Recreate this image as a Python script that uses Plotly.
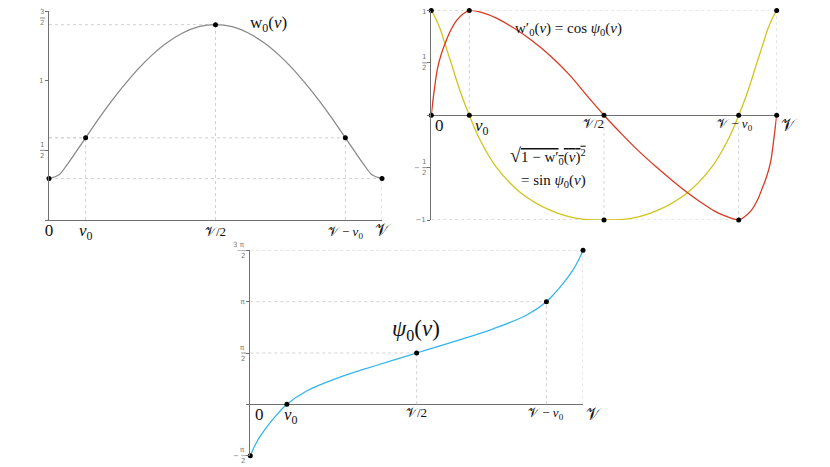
import math
import plotly.graph_objects as go

# ---------------- data (V = 1) ----------------
V = 1.0
v0 = 0.11
x_tick_vals = [0, v0, V / 2, V - v0, V]

# top-left: w0(v)
w_v = [0, 0.03, 0.055, 0.08, 0.11, 0.15, 0.19, 0.23, 0.27, 0.31, 0.35, 0.40, 0.45, 0.5,
       0.55, 0.60, 0.65, 0.69, 0.73, 0.77, 0.81, 0.85, 0.89, 0.92, 0.945, 0.97, 1.0]
w_y = [0.298, 0.325, 0.40, 0.485, 0.59, 0.73, 0.86, 0.98, 1.09, 1.185, 1.265, 1.34, 1.387, 1.402,
       1.387, 1.34, 1.265, 1.185, 1.09, 0.98, 0.86, 0.73, 0.59, 0.485, 0.40, 0.325, 0.298]
w_key_y = [0.298, 0.59, 1.402, 0.59, 0.298]

# top-right: w0'(v) = cos psi0 (red) and sqrt(1-w0'^2) = sin psi0 (yellow)
red_v = [0, 0.0077, 0.0183, 0.0299, 0.0396, 0.0541, 0.0734, 0.0927, 0.110, 0.15, 0.19,
         0.24, 0.29, 0.345, 0.40, 0.45, 0.5, 0.55, 0.60, 0.65, 0.70, 0.74, 0.78, 0.82,
         0.85, 0.87, 0.89, 0.907, 0.927, 0.946, 0.960, 0.970, 0.982, 0.992, 1.0]
red_y = [0, 0.219, 0.453, 0.594, 0.681, 0.797, 0.906, 0.969, 1.0, 0.977, 0.925,
         0.83, 0.715, 0.565, 0.385, 0.19, 0, -0.175, -0.34, -0.49, -0.63, -0.735, -0.83, -0.915,
         -0.96, -0.985, -1.0, -0.969, -0.906, -0.797, -0.681, -0.594, -0.453, -0.219, 0]
yel_v = [0, 0.0106, 0.0251, 0.0396, 0.0589, 0.0830, 0.110, 0.1409, 0.1892, 0.2568, 0.3436,
         0.4208, 0.5, 0.5792, 0.6564, 0.7432, 0.8108, 0.8591, 0.890, 0.917, 0.9411, 0.9604,
         0.9749, 0.9894, 1.0]
yel_y = [1, 0.9375, 0.828, 0.681, 0.484, 0.234, 0, -0.234, -0.5, -0.734, -0.906,
         -0.984, -1, -0.984, -0.906, -0.734, -0.5, -0.234, 0, 0.234, 0.484, 0.681,
         0.828, 0.9375, 1]
red_key_y = [0, 1, 0, -1, 0]
yel_key_y = [1, 0, -1, 0, 1]

# bottom: psi0(v), in multiples of pi/2
psi_v = [0, 0.014, 0.029, 0.059, 0.084, 0.110, 0.169, 0.270, 0.350, 0.430, 0.5,
         0.570, 0.650, 0.730, 0.831, 0.890, 0.916, 0.941, 0.971, 0.986, 1.0]
psi_half_pi = [-1, -0.80, -0.63, -0.36, -0.17, 0, 0.26, 0.53, 0.70, 0.86, 1.0,
               1.14, 1.30, 1.47, 1.74, 2.0, 2.17, 2.36, 2.63, 2.80, 3.0]
psi_key_half_pi = [-1, 0, 1, 2, 3]

# ---------------- geometry / styling ----------------
OFF = 8                      # page body margin of the html page
W, H = 830 - OFF, 467 - OFF  # figure size so it fits the window
AXC = "#707070"
GRID = "#d2d2d2"
SERIF = "Liberation Serif, DejaVu Serif, serif"
TICKC = "#777777"
TICKF = dict(family="DejaVu Sans", size=7, color=TICKC)
CAL = "𝒱"


def fx(p):
    return (p - OFF) / W


def fy(p):
    return min(1.0, 1 - (p - OFF) / H)


fig = go.Figure()


def guides(xs, ys, xa, ya):
    gx, gy = [], []
    for x, y in zip(xs, ys):
        if x != 0 and y != 0:
            gx += [0, x, None, x, x, None]
            gy += [y, y, None, 0, y, None]
    fig.add_trace(go.Scatter(x=gx, y=gy, mode="lines", xaxis=xa, yaxis=ya,
                             line=dict(color=GRID, width=1, dash="dot"),
                             hoverinfo="skip", showlegend=False))


def curve(xs, ys, color, xa, ya):
    fig.add_trace(go.Scatter(x=xs, y=ys, mode="lines", xaxis=xa, yaxis=ya,
                             line=dict(color=color, width=1.3, shape="spline", smoothing=1.0),
                             showlegend=False, cliponaxis=False))


def dots(xs, ys, xa, ya):
    fig.add_trace(go.Scatter(x=xs, y=ys, mode="markers", xaxis=xa, yaxis=ya,
                             marker=dict(color="black", size=5),
                             showlegend=False, cliponaxis=False))


# --- subplot 1 ---
guides(x_tick_vals, w_key_y, "x", "y")
curve(w_v, w_y, "#8a8a8a", "x", "y")
dots(x_tick_vals, w_key_y, "x", "y")

# --- subplot 2 ---
key2_x = x_tick_vals + x_tick_vals
key2_y = red_key_y + yel_key_y
guides(key2_x, key2_y, "x2", "y2")
curve(yel_v, yel_y, "#d2c41c", "x2", "y2")
curve(red_v, red_y, "#d93a22", "x2", "y2")
dots(key2_x, key2_y, "x2", "y2")

# --- subplot 3 ---
psi_y = [p * math.pi / 2 for p in psi_half_pi]
psi_key_y = [p * math.pi / 2 for p in psi_key_half_pi]
guides(x_tick_vals, psi_key_y, "x3", "y3")
curve(psi_v, psi_y, "#33b5ee", "x3", "y3")
dots(x_tick_vals, psi_key_y, "x3", "y3")

big = lambda s: f"<span style='font-size:17px'>{s}</span>"
med = lambda s: f"<span style='font-size:13px'>{s}</span>"
xlab = [big("0"), big("<i>v</i><sub>0</sub>"), med(CAL + "/2"),
        med(CAL + " − <i>v</i><sub>0</sub>"), big(CAL)]

axis_common = dict(showgrid=False, zeroline=False, fixedrange=True, automargin=False)
yax_common = dict(showline=True, linecolor=AXC, linewidth=1.3, ticks="outside", ticklen=3,
                  tickcolor=AXC, tickwidth=1, tickfont=TICKF, showgrid=False,
                  fixedrange=True, automargin=False)

fig.update_layout(
    width=W, height=H, margin=dict(l=0, r=0, t=0, b=0, autoexpand=False),
    paper_bgcolor="white", plot_bgcolor="rgba(0,0,0,0)", showlegend=False,
    xaxis=dict(domain=[fx(49), fx(382)], range=[0, V], anchor="y",
               showline=True, linecolor=AXC, linewidth=1.3, ticks="",
               tickvals=x_tick_vals, ticktext=xlab, ticklabelstandoff=-3,
               tickfont=dict(family=SERIF, size=15, color="#111"), **axis_common),
    yaxis=dict(domain=[fy(220), fy(11)], range=[0, 1.5], anchor="x",
               tickvals=[0, 0.5, 1, 1.5], ticktext=["", "", "1", ""], zeroline=False,
               **yax_common),
    xaxis2=dict(domain=[fx(431.3), fx(776.7)], range=[0, V], anchor="y2",
                showline=False, ticks="", showticklabels=False, **axis_common),
    yaxis2=dict(domain=[fy(220), fy(10.5)], range=[-1, 1], anchor="x2",
                tickvals=[-1, -0.5, 0, 0.5, 1], ticktext=["−1", "", "", "", ""],
                zeroline=True, zerolinecolor=AXC, zerolinewidth=1.3, **yax_common),
    xaxis3=dict(domain=[fx(250.3), fx(583)], range=[0, V], anchor="y3",
                showline=False, ticks="", showticklabels=False, **axis_common),
    yaxis3=dict(domain=[fy(455.7), fy(250.3)], range=[-math.pi / 2, 3 * math.pi / 2],
                anchor="x3", tickvals=[-math.pi / 2, 0, math.pi / 2, math.pi, 3 * math.pi / 2],
                ticktext=["", "", "", "π", ""], zeroline=True, zerolinecolor=AXC,
                zerolinewidth=1.3, **yax_common),
)

ann = []
shapes = []


def frac(ax_px, yref, yval, num, den, neg=False, width=5, drop=0):
    """stacked fraction tick label left of a y axis at page pixel ax_px"""
    right = ax_px - 4
    for txt, sh in ((num, 5.5 - drop), (den, -5.5 - drop)):
        ann.append(dict(x=fx(right), y=yval, xref="paper", yref=yref, text=txt,
                        showarrow=False, xanchor="right", yanchor="middle", yshift=sh,
                        borderpad=0, font=TICKF))
    shapes.append(dict(type="line", xref="paper", yref=yref, ysizemode="pixel", yanchor=yval,
                       x0=fx(right - width), x1=fx(right), y0=-drop, y1=-drop,
                       line=dict(color="#8c8c8c", width=1)))
    if neg:
        ann.append(dict(x=fx(right - width - 1), y=yval, xref="paper", yref=yref, text="−",
                        showarrow=False, xanchor="right", yanchor="middle", yshift=-drop,
                        borderpad=0, font=TICKF))


frac(49, "y", 1.5, "3", "2", drop=7)
frac(49, "y", 0.5, "1", "2")
frac(431.3, "y2", 0.5, "1", "2")
frac(431.3, "y2", -0.5, "1", "2", neg=True)
frac(250.3, "y3", 3 * math.pi / 2, "3 π", "2", width=9)
frac(250.3, "y3", math.pi / 2, "π", "2")
frac(250.3, "y3", -math.pi / 2, "π", "2", neg=True)
# top tick label of the right-hand plot
ann.append(dict(x=fx(431.3 - 4), y=1, xref="paper", yref="y2", text="1", showarrow=False,
                xanchor="right", yanchor="middle", yshift=-1, borderpad=0, font=TICKF))

# subplot 2 x labels
lab2_anchor = ["left", "left", "right", "center", "left"]
lab2_shift = [2, 4, 2, -4, 2]
for xv, t, a, s in zip(x_tick_vals, xlab, lab2_anchor, lab2_shift):
    ann.append(dict(x=xv, y=0, xref="x2", yref="y2", text=t, showarrow=False,
                    xanchor=a, yanchor="top", xshift=s, yshift=1,
                    font=dict(family=SERIF, size=15, color="#111")))
# subplot 3 x labels
lab3_anchor = ["left", "center", "center", "center", "left"]
lab3_shift = [3, 4, 0, 0, 1]
for xv, t, a, s in zip(x_tick_vals, xlab, lab3_anchor, lab3_shift):
    ann.append(dict(x=xv, y=0, xref="x3", yref="y3", text=t, showarrow=False,
                    xanchor=a, yanchor="top", xshift=s, yshift=1,
                    font=dict(family=SERIF, size=15, color="#111")))
# curve labels
ann.append(dict(x=0.598, y=1.41, xref="x", yref="y", xanchor="left", yanchor="middle",
                text="w<sub>0</sub>(<i>v</i>)", showarrow=False,
                font=dict(family=SERIF, size=17, color="#111")))
ann.append(dict(x=0.237, y=0.82, xref="x2", yref="y2", xanchor="left", yanchor="middle",
                text="w′<sub>0</sub>(<i>v</i>) = cos <i>ψ</i><sub>0</sub>(<i>v</i>)", showarrow=False,
                font=dict(family=SERIF, size=15, color="#111")))
ann.append(dict(x=0.222, y=-0.38, xref="x2", yref="y2", xanchor="left", yanchor="middle",
                text="<span style='font-size:20px'>√</span><span style='text-decoration:overline'>"
                     "1 − w′<sub>0</sub>(<i>v</i>)<sup>2</sup></span>",
                showarrow=False, font=dict(family=SERIF, size=15, color="#111")))
ann.append(dict(x=0.255, y=-0.63, xref="x2", yref="y2", xanchor="left", yanchor="middle",
                text="= sin <i>ψ</i><sub>0</sub>(<i>v</i>)", showarrow=False,
                font=dict(family=SERIF, size=15, color="#111")))
ann.append(dict(x=0.498, y=1.44 * math.pi / 2, xref="x3", yref="y3", xanchor="center",
                yanchor="middle", text="<i>ψ</i><sub>0</sub>(<i>v</i>)", showarrow=False,
                font=dict(family=SERIF, size=23, color="#111")))
fig.update_layout(annotations=ann, shapes=shapes)

fig.write_html("out.html")
